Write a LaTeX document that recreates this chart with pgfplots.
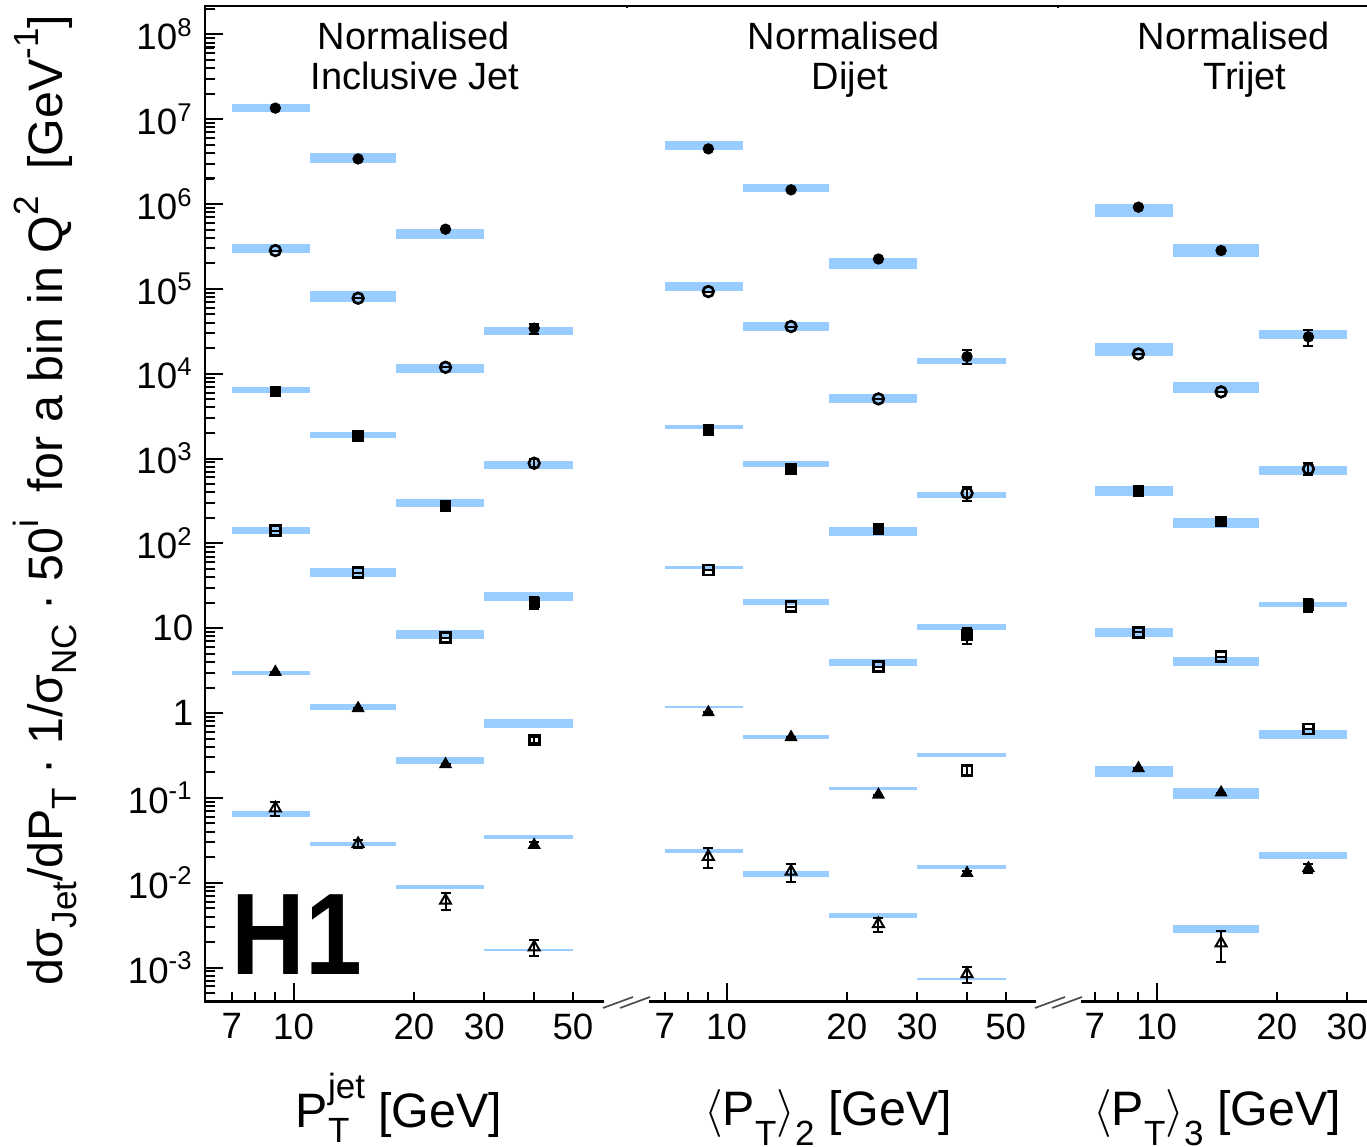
\documentclass[border=0pt]{standalone}
\usepackage{fontspec}
\setmainfont{Liberation Sans}
\usepackage{pgfplots}
\pgfplotsset{compat=1.18}
\definecolor{bandc}{RGB}{153,204,255}
\newcommand{\band}[4]{\addplot[draw=none,fill=bandc,forget plot] coordinates {(#1,#3) (#2,#3) (#2,#4) (#1,#4)};}
\newcommand{\lsub}[1]{\raisebox{-0.42em}{\fontsize{10.5}{10.5}\selectfont #1}}
\newcommand{\ysub}[1]{\raisebox{-0.3em}{\fontsize{10.5}{10.5}\selectfont #1}}
\newcommand{\ysup}[1]{\raisebox{0.5em}{\fontsize{10.5}{10.5}\selectfont #1}}
\pgfplotsset{
 mkfc/.style={only marks, mark=*, mark size=1.5pt, black},
 mkoc/.style={only marks, mark=o, mark size=1.6pt, black, mark options={line width=0.8pt}},
 mkfs/.style={only marks, mark=square*, mark size=1.5pt, black},
 mkos/.style={only marks, mark=square, mark size=1.5pt, black, mark options={line width=0.8pt}},
 mkft/.style={only marks, mark=triangle*, mark size=1.9pt, black},
 mkot/.style={only marks, mark=triangle, mark size=1.9pt, black, mark options={line width=0.6pt}},
 mkeb/.style={error bars/y dir=both, error bars/y explicit,
   error bars/error bar style={line width=0.6pt, black},
   error bars/error mark options={rotate=90, mark size=1.5pt, line width=0.6pt, black}},
}
\begin{document}
\begin{tikzpicture}
\path[use as bounding box] (-61.5pt,-43.6pt) rectangle (348.6pt,300.5pt);
% ---------------- Panel 1: inclusive jet
\begin{axis}[scale only axis, xmode=log, ymode=log, height=298.7pt,
  ymin=3.97e-4, ymax=2.16e8,
  xtick pos=left, ytick pos=left,
  xtick={7,10,20,30,50}, xticklabels={7,10,20,30,50},
  major x tick style={draw=none},
  minor xtick={7,8,9,10,20,30,40,50},
  extra x ticks={10}, extra x tick labels={},
  extra x tick style={major x tick style={draw=black}},
  tick align=inside, major tick length=5.5pt, minor tick length=3pt,
  tick style={black, line width=0.6pt},
  axis line style={line width=0.7pt},
  tick label style={font=\fontsize{11}{13}\selectfont},
  clip=false, anchor=south west,
  at={(0pt,0pt)}, width=126.6pt, xmin=6, xmax=68.3,
  ytick={1e-3,1e-2,1e-1,1,10,1e2,1e3,1e4,1e5,1e6,1e7,1e8},
  minor ytick={4e-4,5e-4,6e-4,7e-4,8e-4,9e-4,2e-3,3e-3,4e-3,5e-3,6e-3,7e-3,8e-3,9e-3,0.02,0.03,0.04,0.05,0.06,0.07,0.08,0.09,0.2,0.3,0.4,0.5,0.6,0.7,0.8,0.9,2,3,4,5,6,7,8,9,20,30,40,50,60,70,80,90,200,300,400,500,600,700,800,900,2e3,3e3,4e3,5e3,6e3,7e3,8e3,9e3,2e4,3e4,4e4,5e4,6e4,7e4,8e4,9e4,2e5,3e5,4e5,5e5,6e5,7e5,8e5,9e5,2e6,3e6,4e6,5e6,6e6,7e6,8e6,9e6,2e7,3e7,4e7,5e7,6e7,7e7,8e7,9e7,2e8},
  yticklabels={10\textsuperscript{-3},10\textsuperscript{-2},10\textsuperscript{-1},1,10,10\textsuperscript{2},10\textsuperscript{3},10\textsuperscript{4},10\textsuperscript{5},10\textsuperscript{6},10\textsuperscript{7},10\textsuperscript{8}}]
\band{7}{11}{1.206e7}{1.514e7}
\band{7}{11}{2.677e5}{3.363e5}
\band{7}{11}{5894}{6937}
\band{7}{11}{129.4}{154.8}
\band{7}{11}{2.841}{3.168}
\band{7}{11}{0.05973}{0.07031}
\band{11}{18}{3.03e6}{4.04e6}
\band{11}{18}{7.024e4}{9.365e4}
\band{11}{18}{1752}{2084}
\band{11}{18}{40.62}{51.84}
\band{11}{18}{1.090}{1.283}
\band{11}{18}{0.02720}{0.03031}
\band{18}{30}{3.851e5}{5.135e5}
\band{18}{30}{1.014e4}{1.295e4}
\band{18}{30}{267.2}{337.5}
\band{18}{30}{7.488}{9.458}
\band{18}{30}{0.2538}{0.3019}
\band{18}{30}{0.008534}{0.009515}
\band{30}{50}{2.844e4}{3.593e4}
\band{30}{50}{749.3}{946.2}
\band{30}{50}{21.00}{26.52}
\band{30}{50}{0.6689}{0.8447}
\band{30}{50}{0.03262}{0.03635}
\band{30}{50}{0.001565}{0.001670}
\addplot[mkfc, mkeb] coordinates {(9,1.35e7) +- (0,0) (14.5,3.4e6) +- (0,0) (24,5.05e5) +- (0,0) (40,3.44e4) +- (0,4670)};
\addplot[mkoc, mkeb] coordinates {(9,2.83e5) +- (0,0) (14.5,7.76e4) +- (0,0) (24,1.19e4) +- (0,0) (40,881) +- (0,96)};
\addplot[mkfs, mkeb] coordinates {(9,6150) +- (0,0) (14.5,1850) +- (0,0) (24,277) +- (0,0) (40,20.0) +- (0,3.3)};
\addplot[mkos, mkeb] coordinates {(9,141.6) +- (0,0) (14.5,45.3) +- (0,0) (24,7.76) +- (0,0) (40,0.483) +- (0,0.039)};
\addplot[mkft, mkeb] coordinates {(9,3.05) +- (0,0) (14.5,1.14) +- (0,0) (24,0.249) +- (0,0) (40,0.0279) +- (0,0.002)};
\addplot[mkot, mkeb] coordinates {(9,0.0757) +- (0,0.0138) (14.5,0.0287) +- (0,0.0031) (24,0.00617) +- (0,0.00134) (40,0.00174) +- (0,0.00038)};
\end{axis}
% ---------------- Panel 2: dijet
\begin{axis}[scale only axis, xmode=log, ymode=log, height=298.7pt,
  ymin=3.97e-4, ymax=2.16e8,
  xtick pos=left, ytick=\empty, yminorticks=false,
  xtick={7,10,20,30,50}, xticklabels={7,10,20,30,50},
  major x tick style={draw=none},
  minor xtick={7,8,9,10,20,30,40,50},
  extra x ticks={10}, extra x tick labels={},
  extra x tick style={major x tick style={draw=black}},
  tick align=inside, major tick length=5.5pt, minor tick length=3pt,
  tick style={black, line width=0.6pt},
  axis line style={line width=0.7pt},
  tick label style={font=\fontsize{11}{13}\selectfont},
  clip=false, anchor=south west,
  at={(126.6pt,0pt)}, width=129.3pt, xmin=5.63, xmax=67.6]
\band{7}{11}{4.346e6}{5.461e6}
\band{7}{11}{9.544e4}{1.199e5}
\band{7}{11}{2237}{2494}
\band{7}{11}{49.65}{54.73}
\band{7}{11}{1.151}{1.215}
\band{7}{11}{0.02266}{0.02527}
\band{11}{18}{1.375e6}{1.728e6}
\band{11}{18}{3.196e4}{4.038e4}
\band{11}{18}{797.4}{948.6}
\band{11}{18}{18.64}{22.17}
\band{11}{18}{0.4909}{0.5531}
\band{11}{18}{0.01162}{0.01369}
\band{18}{30}{1.734e5}{2.337e5}
\band{18}{30}{4567}{5831}
\band{18}{30}{122.6}{154.0}
\band{18}{30}{3.628}{4.316}
\band{18}{30}{0.1234}{0.1360}
\band{18}{30}{0.003885}{0.004377}
\band{30}{50}{1.295e4}{1.524e4}
\band{30}{50}{340.2}{404.6}
\band{30}{50}{9.559}{11.25}
\band{30}{50}{0.3044}{0.3430}
\band{30}{50}{0.01468}{0.01637}
\band{30}{50}{7.16e-4}{7.556e-4}
\addplot[mkfc, mkeb] coordinates {(9,4.47e6) +- (0,0) (14.5,1.47e6) +- (0,0) (24,2.25e5) +- (0,0) (40,1.59e4) +- (0,3020)};
\addplot[mkoc, mkeb] coordinates {(9,9.3e4) +- (0,0) (14.5,3.6e4) +- (0,0) (24,5050) +- (0,0) (40,391) +- (0,74)};
\addplot[mkfs, mkeb] coordinates {(9,2180) +- (0,0) (14.5,755) +- (0,0) (24,148) +- (0,0) (40,8.36) +- (0,1.8)};
\addplot[mkos, mkeb] coordinates {(9,48.7) +- (0,0) (14.5,18.0) +- (0,0) (24,3.53) +- (0,0) (40,0.21) +- (0,0.028)};
\addplot[mkft, mkeb] coordinates {(9,1.02) +- (0,0) (14.5,0.52) +- (0,0) (24,0.109) +- (0,0) (40,0.0130) +- (0,0.0008)};
\addplot[mkot, mkeb] coordinates {(9,0.0203) +- (0,0.0055) (14.5,0.01355) +- (0,0.0033) (24,0.00327) +- (0,0.00062) (40,8.43e-4) +- (0,1.8e-4)};
\end{axis}
% ---------------- Panel 3: trijet
\begin{axis}[scale only axis, xmode=log, ymode=log, height=298.7pt,
  ymin=3.97e-4, ymax=2.16e8,
  xtick pos=left, ytick=\empty, yminorticks=false,
  xtick={7,10,20,30,50}, xticklabels={7,10,20,30,50},
  major x tick style={draw=none},
  minor xtick={7,8,9,10,20,30,40,50},
  extra x ticks={10}, extra x tick labels={},
  extra x tick style={major x tick style={draw=black}},
  tick align=inside, major tick length=5.5pt, minor tick length=3pt,
  tick style={black, line width=0.6pt},
  axis line style={line width=0.7pt},
  tick label style={font=\fontsize{11}{13}\selectfont},
  clip=false, anchor=south west,
  at={(255.9pt,0pt)}, width=102.6pt, xmin=5.66, xmax=40.7]
\band{7}{11}{6.98e5}{1.004e6}
\band{7}{11}{1.600e4}{2.277e4}
\band{7}{11}{362.9}{476.1}
\band{7}{11}{7.971}{10.01}
\band{7}{11}{0.1750}{0.2384}
\band{11}{18}{2.356e5}{3.39e5}
\band{11}{18}{5864}{7902}
\band{11}{18}{152.3}{199.8}
\band{11}{18}{3.628}{4.557}
\band{11}{18}{0.0966}{0.1302}
\band{11}{18}{0.002537}{0.003187}
\band{18}{30}{2.539e4}{3.241e4}
\band{18}{30}{642.0}{819.5}
\band{18}{30}{17.70}{20.61}
\band{18}{30}{0.4962}{0.6233}
\band{18}{30}{0.01895}{0.02330}
\addplot[mkfc, mkeb] coordinates {(9,9.18e5) +- (0,0) (14.5,2.83e5) +- (0,0) (24,2.72e4) +- (0,5900)};
\addplot[mkoc, mkeb] coordinates {(9,1.71e4) +- (0,0) (14.5,6110) +- (0,0) (24,755) +- (0,123)};
\addplot[mkfs, mkeb] coordinates {(9,416) +- (0,0) (14.5,179.6) +- (0,0) (24,18.8) +- (0,3.1)};
\addplot[mkos, mkeb] coordinates {(9,8.98) +- (0,0) (14.5,4.63) +- (0,0) (24,0.652) +- (0,0)};
\addplot[mkft, mkeb] coordinates {(9,0.224) +- (0,0) (14.5,0.1156) +- (0,0) (24,0.01486) +- (0,0.002)};
\addplot[mkot, mkeb] coordinates {(14.5,0.00194) +- (0,0.00077)};
\end{axis}
% hide the inner vertical frame lines where panels join
\draw[white, line width=3pt] (126.6pt,0.6pt) -- (126.6pt,298.0pt);
\draw[white, line width=3pt] (255.9pt,0.6pt) -- (255.9pt,298.0pt);
% left-axis tick marks (decades and 2..9 subdivisions)
\begin{scope}
\clip (0pt,0pt) rectangle (10pt,298.7pt);
\foreach \k in {-3,...,8} {\draw[black, line width=0.6pt] (0pt,{(\k+3.4012)*25.452pt}) -- ++(5.5pt,0pt);}
\foreach \k in {-4,...,8} {\foreach \m in {2,...,9} {\draw[black, line width=0.6pt] (0pt,{(\k+log10(\m)+3.4012)*25.452pt}) -- ++(2.8pt,0pt);}}
\end{scope}
% axis breaks
\fill[white] (119.7pt,-1.2pt) rectangle (133.2pt,1.2pt);
\fill[white] (249.3pt,-1.2pt) rectangle (262.8pt,1.2pt);
\draw[black!70, line width=0.5pt] (119.4pt,-1.9pt) -- (128.4pt,1.4pt);
\draw[black!70, line width=0.5pt] (124.5pt,-1.9pt) -- (133.5pt,1.4pt);
\draw[black!70, line width=0.5pt] (249.0pt,-1.9pt) -- (258.0pt,1.4pt);
\draw[black!70, line width=0.5pt] (254.1pt,-1.9pt) -- (263.1pt,1.4pt);
% titles
\begin{scope}[every node/.style={inner sep=0pt, anchor=base, font=\fontsize{11.4}{13}\selectfont}]
\node at (62.7pt,285.5pt) {Normalised};
\node at (63.0pt,273.5pt) {Inclusive Jet};
\node at (191.7pt,285.5pt) {Normalised};
\node at (193.5pt,273.5pt) {Dijet};
\node at (308.7pt,285.5pt) {Normalised};
\node at (312.0pt,273.5pt) {Trijet};
\end{scope}
% H1 logo
\node[anchor=base west, inner sep=0pt, xscale=0.88, transform shape, font=\fontsize{34.8}{36}\bfseries\selectfont] at (7.8pt,8.0pt) {H1};
% axis labels
\begin{scope}[every node/.style={inner sep=0pt, anchor=base, font=\fontsize{14.5}{16}\selectfont}]
\node at (58.2pt,-37.9pt) {P\rlap{\raisebox{-0.3em}{\fontsize{10.5}{10.5}\selectfont T}}\raisebox{0.62em}{\fontsize{10.5}{10.5}\selectfont jet} [GeV]};
\node at (186.9pt,-37.2pt) {$\langle$P\lsub{T}$\rangle$\lsub{2} [GeV]};
\node at (303.6pt,-37.2pt) {$\langle$P\lsub{T}$\rangle$\lsub{3} [GeV]};
\node[rotate=90, anchor=center] at (-48pt,150.5pt) {dσ\ysub{Jet}/dP\ysub{T} · 1/σ\ysub{NC} · 50\ysup{i}\ \ for a bin in Q\ysup{2}\ \ [GeV\ysup{-1}]};
\end{scope}
\end{tikzpicture}
\end{document}
